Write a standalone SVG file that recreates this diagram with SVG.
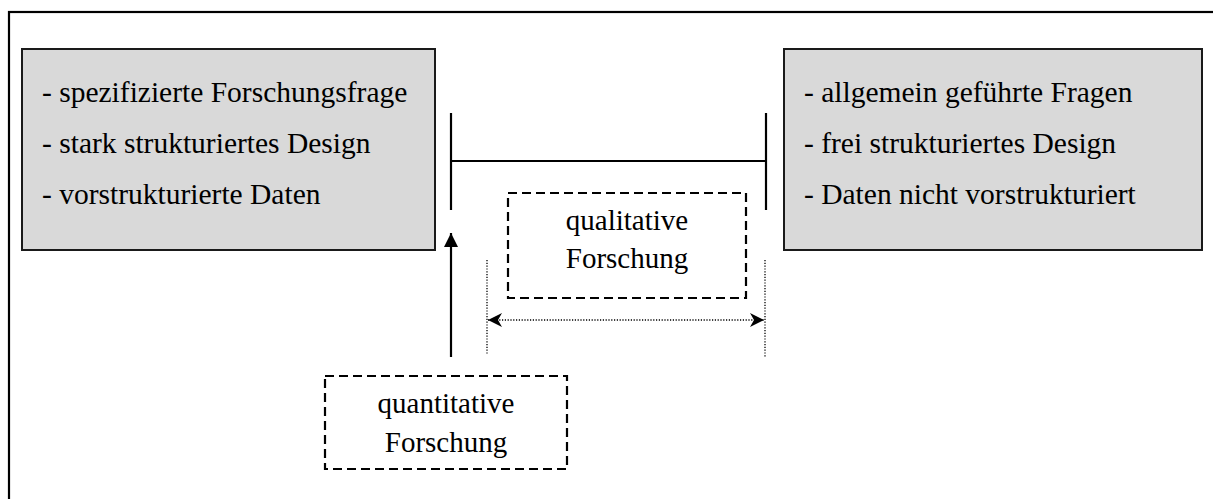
<svg xmlns="http://www.w3.org/2000/svg" width="1213" height="499" viewBox="0 0 1213 499">
  <style>
    .frame { fill: none; stroke: #000; stroke-width: 2.2; }
    .box { fill: #d9d9d9; stroke: #1a1a1a; stroke-width: 2; }
    .dbox { fill: none; stroke: #000; stroke-width: 2.2; stroke-dasharray: 9 5; }
    .solid { fill: none; stroke: #000; stroke-width: 2.2; }
    .dot { fill: none; stroke: #000; stroke-width: 1.3; stroke-dasharray: 1.2 1.6; }
    text { font-family: "Liberation Serif", "Times New Roman", serif; fill: #000; }
    .list { font-size: 29.5px; }
    .label { font-size: 29px; text-anchor: middle; }
  </style>
  <defs>
    <marker id="tri" viewBox="0 0 14 14" refX="14" refY="7" markerWidth="14" markerHeight="14" markerUnits="userSpaceOnUse" orient="auto">
      <path d="M0,0 L14,7 L0,14 Z" fill="#000"/>
    </marker>
    <marker id="stealth" viewBox="0 0 14 14" refX="14" refY="7" markerWidth="14" markerHeight="14" markerUnits="userSpaceOnUse" orient="auto-start-reverse">
      <path d="M0,0 L14,7 L0,14 L4,7 Z" fill="#000"/>
    </marker>
  </defs>

  <!-- outer frame, running off the right and bottom edges -->
  <rect class="frame" x="9" y="12" width="1230" height="520"/>

  <g id="left-box">
    <rect class="box" x="22" y="49" width="413" height="201"/>
    <text class="list" x="42" y="102">- spezifizierte Forschungsfrage</text>
    <text class="list" x="42" y="153">- stark strukturiertes Design</text>
    <text class="list" x="42" y="204">- vorstrukturierte Daten</text>
  </g>

  <g id="right-box">
    <rect class="box" x="784" y="49" width="418" height="201"/>
    <text class="list" x="804" y="102">- allgemein geführte Fragen</text>
    <text class="list" x="804" y="153">- frei strukturiertes Design</text>
    <text class="list" x="804" y="204">- Daten nicht vorstrukturiert</text>
  </g>

  <g id="qualitative">
    <rect class="dbox" x="508" y="193" width="238" height="105"/>
    <text class="label" x="627" y="230">qualitative</text>
    <text class="label" x="627" y="268">Forschung</text>
  </g>

  <g id="quantitative">
    <rect class="dbox" x="325" y="376" width="242" height="93"/>
    <text class="label" x="446" y="413">quantitative</text>
    <text class="label" x="446" y="452">Forschung</text>
  </g>

  <g id="connectors">
    <!-- scale bracket -->
    <line class="solid" x1="451" y1="113" x2="451" y2="210"/>
    <line class="solid" x1="766" y1="113" x2="766" y2="210"/>
    <line class="solid" x1="451" y1="161" x2="766" y2="161"/>
    <!-- arrow from quantitative research up to the left end -->
    <line class="solid" x1="451" y1="357" x2="451" y2="233" marker-end="url(#tri)"/>
    <!-- range of qualitative research -->
    <line class="dot" x1="487" y1="260" x2="487" y2="355"/>
    <line class="dot" x1="765" y1="260" x2="765" y2="357"/>
    <line class="dot" x1="488" y1="320" x2="764" y2="320" marker-start="url(#stealth)" marker-end="url(#stealth)"/>
  </g>
</svg>
